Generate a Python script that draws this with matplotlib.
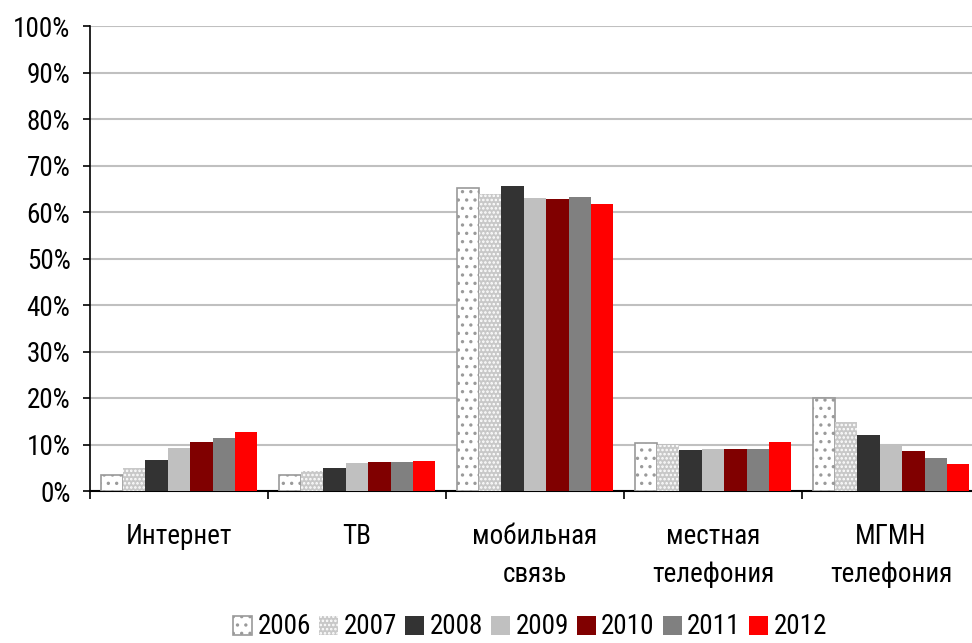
import matplotlib
matplotlib.use("Agg")
import matplotlib.pyplot as plt
import numpy as np
from matplotlib import font_manager

categories = ["Интернет", "ТВ", "мобильная\nсвязь", "местная\nтелефония", "МГМН\nтелефония"]
years = ["2006", "2007", "2008", "2009", "2010", "2011", "2012"]
values = {
    "2006": [3.4, 3.4, 65.1, 10.3, 19.9],
    "2007": [4.9, 4.3, 63.8, 9.9, 14.8],
    "2008": [6.7, 4.9, 65.6, 8.8, 12.0],
    "2009": [9.2, 6.0, 63.0, 9.0, 10.0],
    "2010": [10.5, 6.2, 62.8, 9.0, 8.6],
    "2011": [11.4, 6.2, 63.2, 9.0, 7.1],
    "2012": [12.7, 6.4, 61.7, 10.5, 5.8],
}
yticks = list(range(0, 101, 10))

names = {f.name for f in font_manager.fontManager.ttflist}
fams = [f for f in ["Roboto Condensed", "PT Sans Narrow", "Liberation Sans"] if f in names] + ["DejaVu Sans"]
plt.rcParams['font.family'] = fams
plt.rcParams['hatch.linewidth'] = 1.2
FS = 19.5

styles = {
    "2006": dict(facecolor="white", edgecolor="#9a9a9a", hatch="..", linewidth=1.2),
    "2007": dict(facecolor="#c8c8c8", edgecolor="white", hatch="....", linewidth=0),
    "2008": dict(facecolor="#333333", edgecolor="none"),
    "2009": dict(facecolor="#c0c0c0", edgecolor="none"),
    "2010": dict(facecolor="#800000", edgecolor="none"),
    "2011": dict(facecolor="#808080", edgecolor="none"),
    "2012": dict(facecolor="#ff0000", edgecolor="none"),
}

fig = plt.figure(figsize=(9.72, 6.43), dpi=100)
W, H = 972, 643
ax = fig.add_axes([90 / W, (H - 491) / H, (980 - 90) / W, (491 - 26) / H])

x = np.arange(len(categories))
bw = 0.126
n = len(years)
for i, yr in enumerate(years):
    ax.bar(x + (i - (n - 1) / 2) * bw, values[yr], width=bw, zorder=3, **styles[yr], label=yr)

ax.set_xlim(-0.5, len(categories) - 0.5)
ax.set_ylim(0, 100)
ax.set_yticks(yticks)
ax.set_yticklabels([f"{t}%" for t in yticks], fontsize=FS)
ax.yaxis.grid(True, color="#c0c0c0", linewidth=1.5, zorder=0)
ax.set_axisbelow(True)

ax.set_xticks(np.arange(len(categories) + 1) - 0.5)
ax.set_xticklabels([])
ax.set_xticks(x, minor=True)
ax.set_xticklabels(categories, minor=True, fontsize=FS, linespacing=1.55)
ax.tick_params(axis='x', which='minor', length=0, pad=23)
ax.tick_params(axis='x', which='major', length=6, direction='out', width=1.2)
ax.tick_params(axis='y', length=5, width=1.2, pad=9)

for s in ["top", "right"]:
    ax.spines[s].set_visible(False)
ax.spines["left"].set_linewidth(1.2)
ax.spines["bottom"].set_linewidth(1.5)

fig.legend(loc="center", bbox_to_anchor=(530 / W, 1 - 627 / H), ncol=7, frameon=False,
           fontsize=FS, handlelength=0.7, handleheight=0.7, handletextpad=0.2, columnspacing=0.3,
           borderaxespad=0, borderpad=0.2)

fig.savefig("out.png", dpi=100)
